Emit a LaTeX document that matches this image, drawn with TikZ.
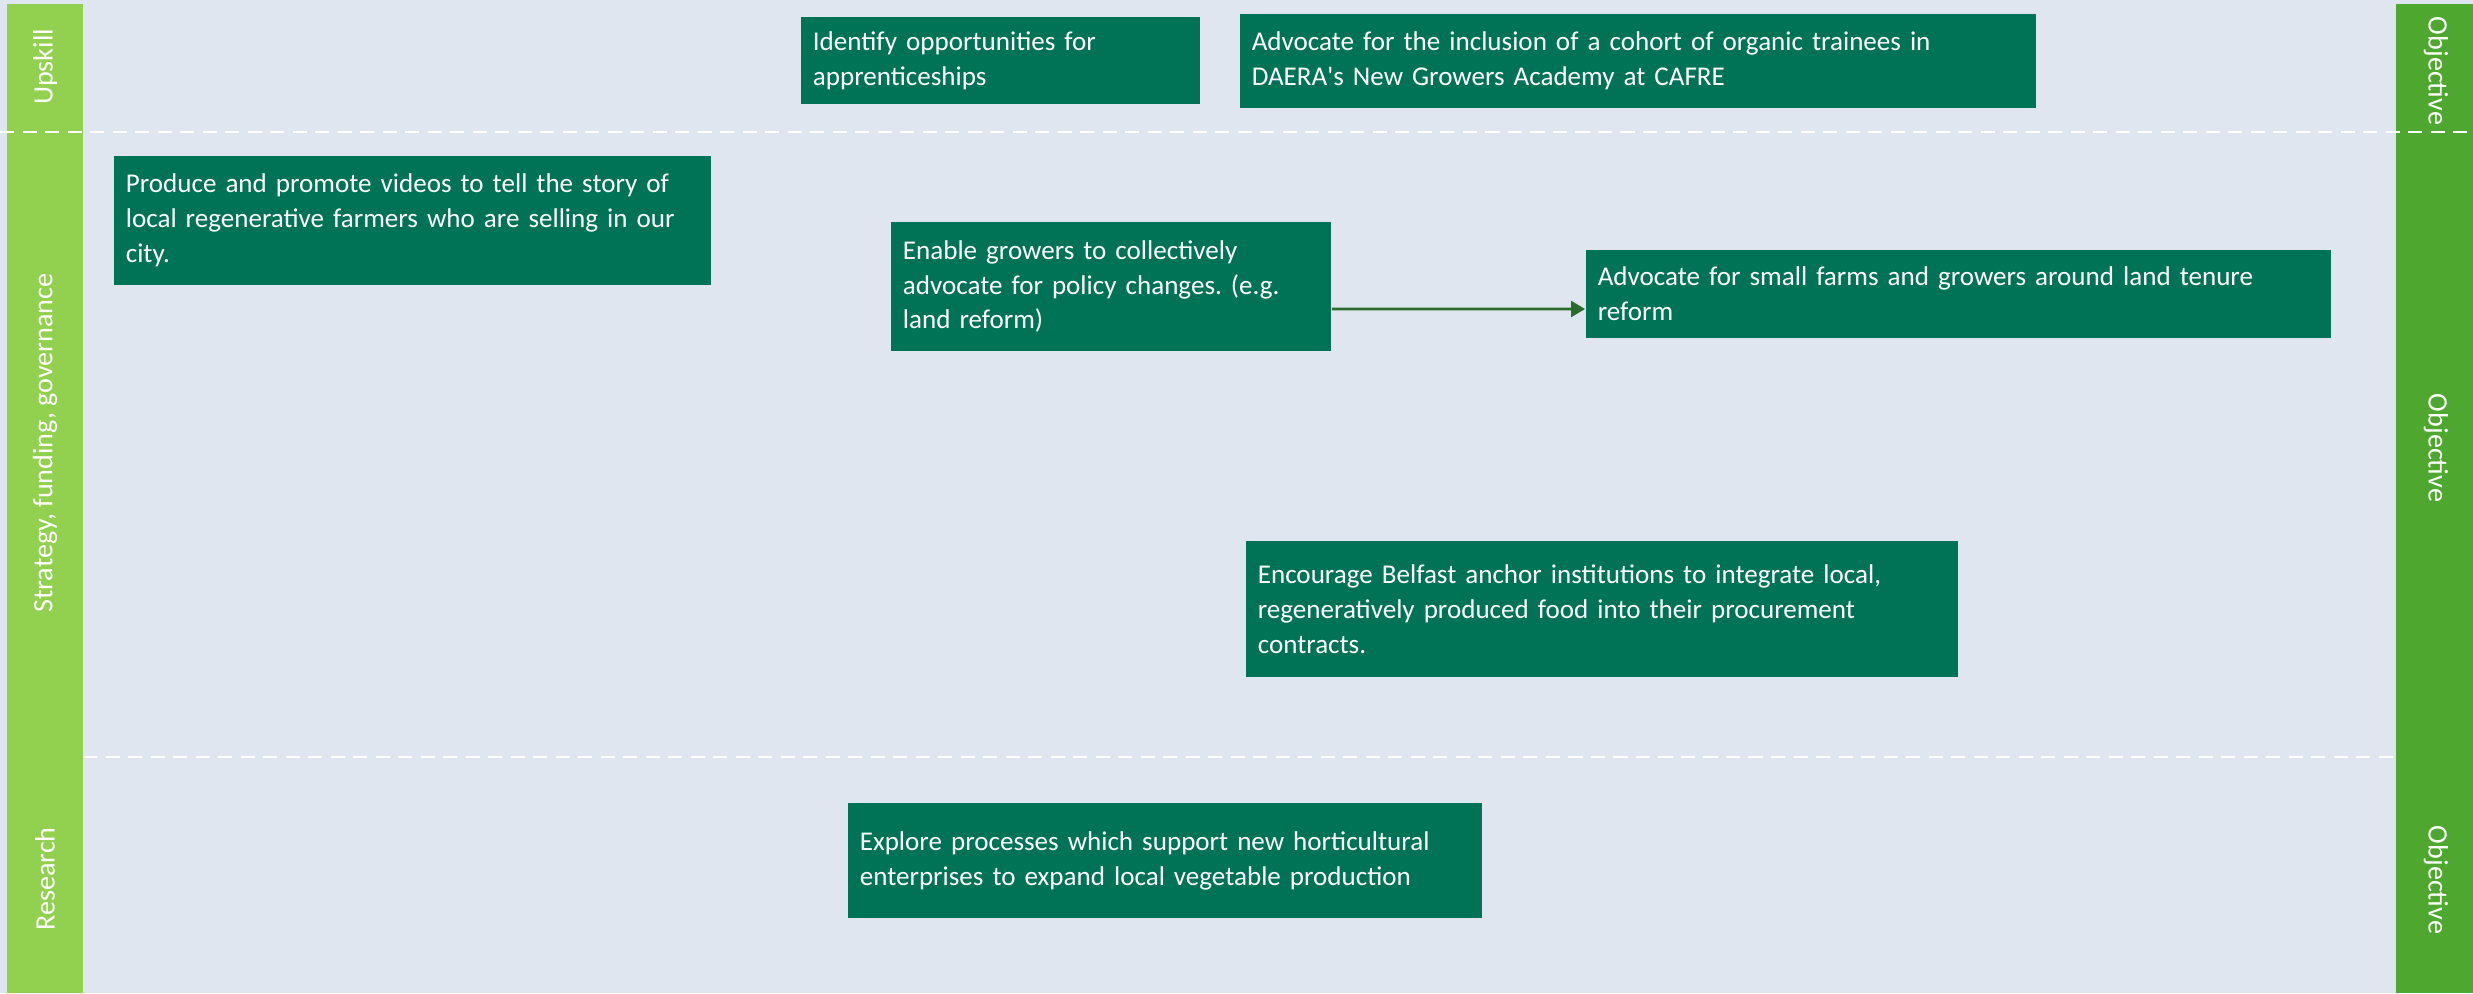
\documentclass[tikz,border=0pt]{standalone}
\usepackage{fontspec}
\setmainfont{Carlito}[Ligatures=TeXOff]
\usetikzlibrary{arrows.meta}
\definecolor{bgc}{HTML}{DFE6F0}
\definecolor{lgreen}{HTML}{92D050}
\definecolor{dgreen}{HTML}{4EA72E}
\definecolor{boxgreen}{HTML}{007357}
\definecolor{arrgreen}{HTML}{2B6B2B}
\tikzset{
  actbox/.style={fill=boxgreen, text=white, font=\fontsize{7.7}{9.9}\selectfont, align=left, inner xsep=0.12cm, inner ysep=0pt, anchor=center},
  lanelabel/.style={text=white, font=\fontsize{8}{9.9}\selectfont, inner sep=0pt},
  sep/.style={white, line width=0.7pt, dash pattern=on 4pt off 2.4pt},
  arr/.style={arrgreen, line width=0.8pt, -{Triangle[length=4pt,width=4.5pt]}}
}
\frenchspacing
\begin{document}
\begin{tikzpicture}[x=0.01cm, y=-0.01cm]
\fill[bgc] (0,0) rectangle (2473,993);
\useasboundingbox (0,0) rectangle (2473,993);
% side bars
\fill[lgreen] (7,4) rectangle (83,993);
\fill[dgreen] (2396,4) rectangle (2473,993);
% separators
\draw[sep] (0,132) -- (2473,132);
\draw[sep] (83,757) -- (2396,757);
% lane labels
\node[lanelabel, rotate=90] (l1) at (45,67) {Upskill};
\node[lanelabel, rotate=90] (l2) at (45,443) {Strategy, funding, governance};
\node[lanelabel, rotate=90] (l3) at (45,879) {Research};
\node[lanelabel, rotate=-90] (r1) at (2436,71) {Objective};
\node[lanelabel, rotate=-90] (r2) at (2436,448) {Objective};
\node[lanelabel, rotate=-90] (r3) at (2436,880) {Objective};
% boxes
\node[actbox, text width=3.75cm, minimum height=0.87cm] (b1) at (1000.5,60.5) {Identify opportunities for\\apprenticeships};
\node[actbox, text width=7.72cm, minimum height=0.94cm] (b2) at (1638,61) {Advocate for the inclusion of a cohort of organic trainees in\\DAERA's New Growers Academy at CAFRE};
\node[actbox, text width=5.73cm, minimum height=1.29cm] (b3) at (412.5,220.5) {Produce and promote videos to tell the story of\\local regenerative farmers who are selling in our\\city.};
\node[actbox, text width=4.16cm, minimum height=1.29cm] (b4) at (1111,286.5) {Enable growers to collectively\\advocate for policy changes. (e.g.\\land reform)};
\node[actbox, text width=7.21cm, minimum height=0.88cm] (b5) at (1958.5,294) {Advocate for small farms and growers around land tenure\\reform};
\node[actbox, text width=6.88cm, minimum height=1.36cm] (b6) at (1602,609) {Encourage Belfast anchor institutions to integrate local,\\regeneratively produced food into their procurement\\contracts.};
\node[actbox, text width=6.10cm, minimum height=1.15cm] (b7) at (1165,860.5) {Explore processes which support new horticultural\\enterprises to expand local vegetable production};
% connector
\draw[arr] ([yshift=-0.225cm]b4.east) -- ([yshift=-0.15cm]b5.west);
\end{tikzpicture}
\end{document}
